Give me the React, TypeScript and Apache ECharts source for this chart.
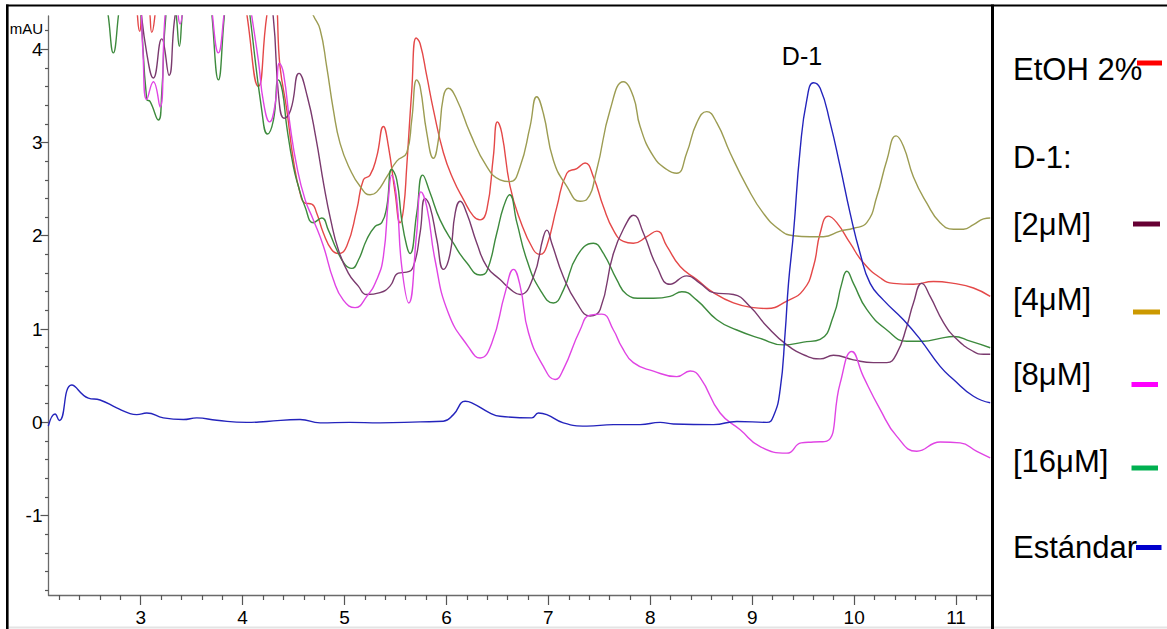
import React, { useEffect, useRef } from "react";
import * as echarts from "echarts";

const W = 1167;
const H = 629;

// ---- data (x = min, y = mAU) ----
const estandar: number[][] = [
  [2.093, -0.04], [2.159, 0.09], [2.201, 0.02], [2.323, 0.40], [2.486, 0.26], [2.601, 0.24], [2.764, 0.155],
  [2.895, 0.094], [2.961, 0.083], [3.059, 0.10], [3.222, 0.048], [3.418, 0.03], [3.550, 0.048], [3.746, 0.022],
  [4.040, 0.0], [4.237, 0.01], [4.563, 0.03], [4.760, -0.005], [5.05, 0.0], [5.348, -0.005], [5.741, 0.005],
  [5.969, 0.012], [6.068, 0.083], [6.183, 0.226], [6.248, 0.21], [6.428, 0.10], [6.526, 0.065], [6.837, 0.048],
  [6.902, 0.10], [6.984, 0.083], [7.147, -0.005], [7.377, -0.04], [7.638, -0.024], [7.900, -0.024], [8.096, 0.0],
  [8.227, -0.017], [8.620, -0.024], [8.849, 0.01], [9.143, 0.0], [9.208, 0.065], [9.274, 0.35], [9.323, 0.96],
  [9.356, 1.49], [9.405, 2.03], [9.470, 2.92], [9.536, 3.46], [9.601, 3.64], [9.667, 3.58], [9.765, 3.21],
  [9.863, 2.74], [9.961, 2.24], [10.059, 1.81], [10.157, 1.49], [10.288, 1.31], [10.484, 1.10], [10.648, 0.89],
  [10.844, 0.60], [10.975, 0.46], [11.171, 0.28], [11.335, 0.21],
];

const etoh: number[][] = [
  [2.09, 5.5], [2.90, 5.0], [2.96, 4.45], [2.99, 4.19], [3.03, 4.45], [3.07, 4.45], [3.108, 4.18], [3.15, 4.45],
  [3.25, 5.2], [3.90, 5.2], [4.03, 4.45], [4.154, 3.60], [4.25, 4.45], [4.31, 4.55], [4.367, 3.81], [4.433, 3.35],
  [4.498, 2.81], [4.563, 2.46], [4.612, 2.35], [4.678, 2.34], [4.727, 2.24], [4.792, 2.03], [4.874, 1.85],
  [4.939, 1.81], [5.022, 1.89], [5.120, 2.28], [5.185, 2.60], [5.250, 2.65], [5.316, 2.85], [5.381, 3.17],
  [5.430, 2.96], [5.496, 2.46], [5.545, 2.14], [5.58, 2.30], [5.61, 2.74], [5.659, 3.55], [5.702, 4.12],
  [5.741, 4.06], [5.807, 3.71], [5.872, 3.35], [5.970, 2.89], [6.068, 2.60], [6.166, 2.39], [6.264, 2.21],
  [6.330, 2.17], [6.396, 2.28], [6.460, 2.85], [6.500, 3.22], [6.543, 3.10], [6.624, 2.53], [6.722, 2.17],
  [6.853, 1.85], [6.919, 1.80], [6.984, 1.89], [7.083, 2.31], [7.181, 2.67], [7.279, 2.72], [7.360, 2.78],
  [7.442, 2.63], [7.540, 2.31], [7.638, 2.06], [7.736, 1.94], [7.834, 1.92], [7.966, 1.99], [8.064, 2.05],
  [8.162, 1.89], [8.293, 1.67], [8.457, 1.53], [8.620, 1.39], [8.816, 1.28], [9.012, 1.23], [9.143, 1.22],
  [9.340, 1.30], [9.503, 1.42], [9.601, 1.67], [9.667, 2.03], [9.748, 2.21], [9.830, 2.14], [9.961, 1.92],
  [10.091, 1.71], [10.255, 1.55], [10.386, 1.49], [10.582, 1.48], [10.778, 1.51], [10.975, 1.49], [11.171, 1.44],
  [11.335, 1.35],
];

const d1_4uM: number[][] = [
  [2.09, 6.0], [4.40, 6.0], [4.62, 4.55], [4.694, 4.36], [4.760, 4.21], [4.825, 3.81], [4.890, 3.35], [4.956, 2.99],
  [5.054, 2.71], [5.152, 2.53], [5.250, 2.44], [5.316, 2.47], [5.414, 2.63], [5.512, 2.80], [5.610, 2.89],
  [5.659, 3.24], [5.708, 3.67], [5.741, 3.60], [5.807, 3.10], [5.872, 2.83], [5.921, 3.03], [5.970, 3.49],
  [6.019, 3.58], [6.101, 3.46], [6.232, 3.10], [6.396, 2.74], [6.526, 2.60], [6.624, 2.58], [6.722, 2.74],
  [6.820, 3.17], [6.886, 3.49], [6.951, 3.31], [7.049, 2.81], [7.181, 2.53], [7.311, 2.37], [7.377, 2.39],
  [7.475, 2.71], [7.606, 3.35], [7.736, 3.65], [7.834, 3.49], [7.900, 3.17], [8.031, 2.85], [8.162, 2.71],
  [8.260, 2.67], [8.358, 2.89], [8.456, 3.21], [8.554, 3.33], [8.653, 3.21], [8.783, 2.89], [8.947, 2.53],
  [9.110, 2.24], [9.274, 2.06], [9.405, 2.00], [9.568, 1.99], [9.699, 1.99], [9.863, 2.05], [9.993, 2.08],
  [10.124, 2.14], [10.223, 2.42], [10.321, 2.81], [10.412, 3.07], [10.484, 2.96], [10.582, 2.63], [10.713, 2.35],
  [10.844, 2.14], [10.975, 2.07], [11.073, 2.07], [11.171, 2.12], [11.269, 2.18], [11.335, 2.19],
];

const d1_2uM: number[][] = [
  [2.09, 6.0], [2.90, 5.2], [2.98, 4.6], [3.06, 3.95], [3.124, 3.69], [3.206, 4.11], [3.278, 3.72], [3.33, 4.3],
  [3.40, 4.8], [3.5, 5.5], [4.1, 5.5], [4.25, 4.6], [4.30, 4.35], [4.356, 3.46], [4.407, 3.26], [4.472, 3.35],
  [4.553, 3.74], [4.635, 3.49], [4.717, 3.06], [4.799, 2.53], [4.864, 2.17], [4.939, 1.85], [5.037, 1.60],
  [5.135, 1.46], [5.216, 1.37], [5.348, 1.39], [5.446, 1.46], [5.528, 1.60], [5.610, 1.61], [5.675, 1.67],
  [5.741, 2.03], [5.790, 2.40], [5.839, 2.31], [5.905, 1.96], [5.970, 1.64], [6.036, 1.81], [6.085, 2.24],
  [6.134, 2.37], [6.199, 2.24], [6.298, 1.92], [6.396, 1.67], [6.526, 1.53], [6.657, 1.40], [6.722, 1.37],
  [6.853, 1.56], [6.951, 1.99], [6.984, 2.06], [7.033, 1.92], [7.147, 1.56], [7.279, 1.28], [7.409, 1.14],
  [7.508, 1.21], [7.638, 1.81], [7.769, 2.14], [7.834, 2.22], [7.932, 2.03], [8.064, 1.67], [8.194, 1.48],
  [8.358, 1.57], [8.489, 1.49], [8.620, 1.39], [8.816, 1.37], [8.98, 1.24], [9.143, 1.03], [9.340, 0.83],
  [9.536, 0.71], [9.667, 0.68], [9.797, 0.72], [9.993, 0.67], [10.189, 0.64], [10.321, 0.64], [10.419, 0.74],
  [10.517, 1.03], [10.582, 1.28], [10.664, 1.49], [10.746, 1.35], [10.877, 1.07], [11.008, 0.89], [11.171, 0.76],
  [11.269, 0.73], [11.335, 0.73],
];

const d1_8uM: number[][] = [
  [2.09, 6.0], [2.90, 5.2], [2.99, 4.6], [3.02, 4.0], [3.059, 3.46], [3.124, 3.65], [3.189, 3.38], [3.238, 4.35],
  [3.29, 4.8], [3.35, 4.5], [3.386, 4.27], [3.42, 4.5], [3.5, 5.2], [3.66, 4.9], [3.70, 4.4], [3.762, 3.96],
  [3.82, 4.4], [3.88, 5.0], [4.0, 5.0], [4.09, 4.35], [4.154, 3.88], [4.206, 3.42], [4.265, 3.22], [4.320, 3.42],
  [4.362, 3.85], [4.401, 3.74], [4.467, 3.17], [4.532, 2.74], [4.612, 2.39], [4.694, 2.17], [4.792, 1.89],
  [4.890, 1.53], [4.988, 1.31], [5.103, 1.23], [5.218, 1.35], [5.316, 1.53], [5.381, 1.78], [5.430, 2.39],
  [5.463, 2.65], [5.512, 2.39], [5.561, 1.67], [5.63, 1.28], [5.708, 2.03], [5.750, 2.47], [5.807, 2.31],
  [5.888, 1.74], [6.019, 1.17], [6.215, 0.81], [6.330, 0.69], [6.445, 0.85], [6.576, 1.39], [6.658, 1.64],
  [6.723, 1.46], [6.805, 0.96], [6.951, 0.60], [7.066, 0.46], [7.148, 0.57], [7.311, 0.99], [7.409, 1.15],
  [7.524, 1.16], [7.638, 0.99], [7.72, 0.81], [7.834, 0.64], [8.031, 0.55], [8.260, 0.49], [8.391, 0.55],
  [8.489, 0.48], [8.685, 0.10], [8.882, -0.08], [9.078, -0.26], [9.340, -0.33], [9.48, -0.22], [9.60, -0.21],
  [9.732, -0.20], [9.863, 0.42], [9.977, 0.76], [10.091, 0.49], [10.255, 0.14], [10.419, -0.15], [10.615, -0.31],
  [10.844, -0.21], [11.040, -0.22], [11.204, -0.31], [11.335, -0.38],
];

const d1_16uM: number[][] = [
  [2.09, 6.0], [2.60, 5.0], [2.682, 4.35], [2.731, 3.96], [2.780, 4.35], [2.86, 5.2], [2.95, 5.0], [3.00, 4.4],
  [3.059, 3.46], [3.091, 3.44], [3.173, 3.24], [3.206, 3.53], [3.25, 4.4], [3.31, 4.7], [3.35, 4.35], [3.379, 4.03],
  [3.41, 4.4], [3.5, 5.2], [3.66, 4.9], [3.70, 4.35], [3.762, 3.67], [3.82, 4.35], [3.88, 5.0], [4.0, 5.0],
  [4.073, 4.35], [4.187, 3.35], [4.243, 3.09], [4.302, 3.24], [4.351, 3.67], [4.39, 3.55], [4.433, 3.17],
  [4.498, 2.74], [4.547, 2.53], [4.612, 2.31], [4.694, 2.14], [4.776, 2.19], [4.841, 2.06], [4.923, 1.85],
  [5.005, 1.69], [5.071, 1.65], [5.136, 1.74], [5.218, 1.96], [5.299, 2.10], [5.365, 2.14], [5.414, 2.31],
  [5.463, 2.71], [5.512, 2.60], [5.561, 2.17], [5.610, 1.89], [5.643, 1.81], [5.708, 2.24], [5.767, 2.65],
  [5.839, 2.46], [5.937, 2.17], [6.068, 1.92], [6.199, 1.71], [6.330, 1.58], [6.396, 1.62], [6.494, 2.03],
  [6.560, 2.31], [6.619, 2.44], [6.691, 2.14], [6.789, 1.74], [6.919, 1.42], [7.049, 1.28], [7.148, 1.42],
  [7.279, 1.78], [7.442, 1.92], [7.540, 1.81], [7.671, 1.53], [7.769, 1.37], [7.900, 1.33], [8.031, 1.33],
  [8.194, 1.35], [8.309, 1.40], [8.456, 1.31], [8.653, 1.10], [8.849, 0.99], [9.078, 0.90], [9.307, 0.83],
  [9.503, 0.86], [9.667, 0.89], [9.797, 1.14], [9.879, 1.49], [9.928, 1.62], [9.993, 1.49], [10.124, 1.21],
  [10.321, 0.99], [10.517, 0.87], [10.680, 0.87], [10.844, 0.90], [10.975, 0.92], [11.139, 0.87], [11.335, 0.80],
];

// ---- axes ----
const xMin = 2.095;
const xMax = 11.343;
const yMin = -1.85;
const yMax = 4.355;
const xMajorTicks = [3, 4, 5, 6, 7, 8, 9, 10, 11];
const xMinorTicks = [
  2.2, 2.4, 2.6, 2.8, 3.2, 3.4, 3.6, 3.8, 4.2, 4.4, 4.6, 4.8, 5.2, 5.4, 5.6, 5.8, 6.2, 6.4, 6.6, 6.8,
  7.2, 7.4, 7.6, 7.8, 8.2, 8.4, 8.6, 8.8, 9.2, 9.4, 9.6, 9.8, 10.2, 10.4, 10.6, 10.8, 11.2,
];
const yMajorTicks = [-1, 0, 1, 2, 3, 4];
const yMinorTicks = [
  -1.8, -1.6, -1.4, -1.2, -0.8, -0.6, -0.4, -0.2, 0.2, 0.4, 0.6, 0.8, 1.2, 1.4, 1.6, 1.8,
  2.2, 2.4, 2.6, 2.8, 3.2, 3.4, 3.6, 3.8, 4.2,
];

// ---- legend ----
const legendLabels = ["EtOH 2%", "D-1:", "[2μM]", "[4μM]", "[8μM]", "[16μM]", "Estándar"];
const legendSwatchColors = ["#FF0000", "#660033", "#CC9900", "#FF00FF", "#00B050", "#0000CC"];

const NARROW = "'Liberation Sans Narrow', 'Arial Narrow', 'Liberation Sans', Arial, sans-serif";
const ARIAL = "'Liberation Sans', Arial, Helvetica, sans-serif";

export default function App() {
  const ref = useRef<HTMLDivElement>(null);

  useEffect(() => {
    if (!ref.current) return;
    const chart = echarts.init(ref.current, null, { renderer: "svg", width: W, height: H });

    const mkSeries = (name: string, data: number[][], color: string) => ({
      name,
      type: "line",
      data,
      xAxisIndex: 0,
      yAxisIndex: 0,
      showSymbol: false,
      symbol: "none",
      smooth: 0.5,
      clip: true,
      lineStyle: { color, width: 1.4 },
      emphasis: { disabled: true },
    });

    const labelY = [69, 157, 224, 299, 374, 461, 547];
    const swatches = [
      { x: 1137, y: 60.5, w: 25 },
      { x: 1133, y: 221.5, w: 27 },
      { x: 1133, y: 309.5, w: 27 },
      { x: 1131.5, y: 382, w: 26.5 },
      { x: 1131.5, y: 465.5, w: 26.5 },
      { x: 1136, y: 545, w: 25.5 },
    ];

    const graphic: any[] = [
      { type: "line", z: 100, shape: { x1: 6, y1: 5.5, x2: W, y2: 5.5 }, style: { stroke: "#000", lineWidth: 2 } },
      { type: "line", z: 100, shape: { x1: 7.3, y1: 4.5, x2: 7.3, y2: H }, style: { stroke: "#000", lineWidth: 2.6 } },
      { type: "line", z: 100, shape: { x1: 992.5, y1: 4.5, x2: 992.5, y2: H }, style: { stroke: "#000", lineWidth: 3 } },
      { type: "line", z: 99, shape: { x1: 8.6, y1: 627.5, x2: W, y2: 627.5 }, style: { stroke: "#e4e4e4", lineWidth: 2 } },
      {
        type: "text", z: 100, x: 43, y: 28,
        style: { text: "mAU", fontSize: 15, fontFamily: NARROW, fill: "#000", align: "right", verticalAlign: "middle" },
      },
      {
        type: "text", z: 100, x: 802, y: 56,
        style: { text: "D-1", fontSize: 25, fontFamily: ARIAL, fill: "#000", align: "center", verticalAlign: "middle" },
      },
    ];
    legendLabels.forEach((t, i) => {
      graphic.push({
        type: "text", z: 100, x: 1013, y: labelY[i],
        style: { text: t, fontSize: 31, fontFamily: ARIAL, fill: "#000", align: "left", verticalAlign: "middle" },
      });
    });
    swatches.forEach((s, i) => {
      graphic.push({
        type: "rect", z: 101,
        shape: { x: s.x, y: s.y, width: s.w, height: 5 },
        style: { fill: legendSwatchColors[i] },
      });
    });

    const axisLineStyle = { color: "#6a6a6a", width: 1.3 };
    const tickStyle = { color: "#555", width: 1.2 };

    const option: any = {
      animation: false,
      backgroundColor: "#ffffff",
      grid: { left: 48.5, right: W - 991, top: 16, bottom: H - 595, containLabel: false },
      xAxis: [
        {
          type: "value", min: xMin, max: xMax, position: "bottom",
          axisLine: { show: true, onZero: false, lineStyle: axisLineStyle },
          axisTick: { show: true, customValues: xMajorTicks, length: 10, lineStyle: tickStyle },
          axisLabel: { show: true, customValues: xMajorTicks, margin: 13, fontSize: 19, color: "#000", fontFamily: NARROW },
          splitLine: { show: false },
        },
        {
          type: "value", min: xMin, max: xMax, position: "bottom",
          axisLine: { show: false, onZero: false },
          axisTick: { show: true, customValues: xMinorTicks, length: 5, lineStyle: tickStyle },
          axisLabel: { show: false },
          splitLine: { show: false },
        },
      ],
      yAxis: [
        {
          type: "value", min: yMin, max: yMax, position: "left",
          axisLine: { show: true, onZero: false, lineStyle: axisLineStyle },
          axisTick: { show: true, customValues: yMajorTicks, length: 8, lineStyle: tickStyle },
          axisLabel: { show: true, customValues: yMajorTicks, margin: 6, fontSize: 19, color: "#000", fontFamily: NARROW },
          splitLine: { show: false },
        },
        {
          type: "value", min: yMin, max: yMax, position: "left",
          axisLine: { show: false, onZero: false },
          axisTick: { show: true, customValues: yMinorTicks, length: 3.5, lineStyle: tickStyle },
          axisLabel: { show: false },
          splitLine: { show: false },
        },
      ],
      series: [
        mkSeries("EtOH 2%", etoh, "#e44848"),
        mkSeries("[4μM]", d1_4uM, "#9c9c52"),
        mkSeries("[16μM]", d1_16uM, "#3d8a3d"),
        mkSeries("[2μM]", d1_2uM, "#7a3a6e"),
        mkSeries("[8μM]", d1_8uM, "#e044e4"),
        mkSeries("Estándar", estandar, "#2424bc"),
      ],
      graphic,
    };

    chart.setOption(option);
    return () => chart.dispose();
  }, []);

  return (
    <div
      ref={ref}
      style={{ position: "absolute", left: 0, top: 0, width: W, height: H, background: "#fff" }}
    />
  );
}
